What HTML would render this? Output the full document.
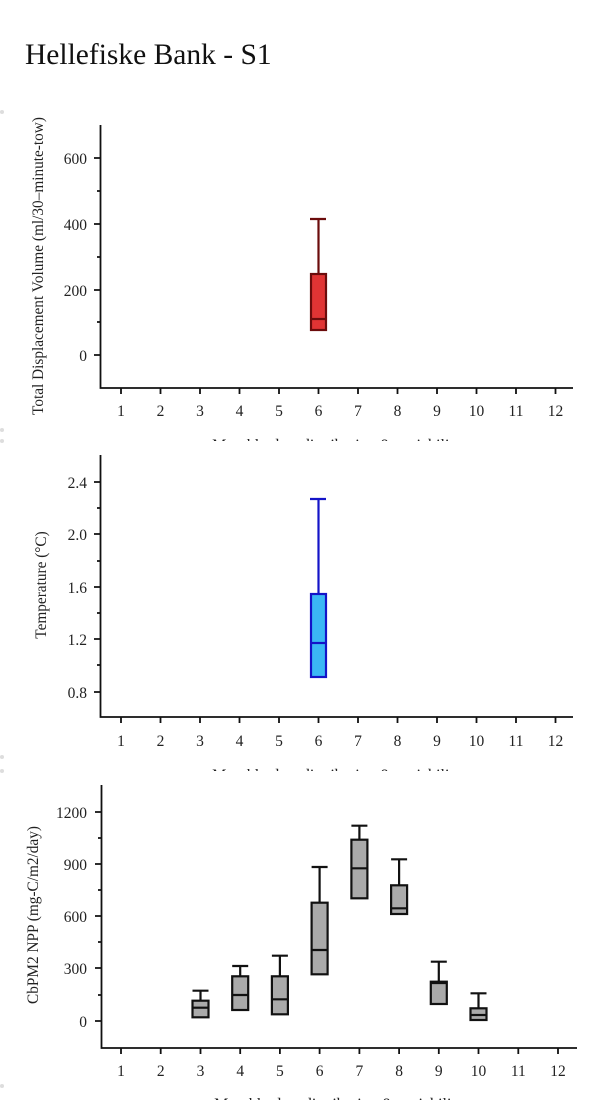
<!DOCTYPE html>
<html><head><meta charset="utf-8"><style>
html,body{margin:0;padding:0;background:#fff;}
svg{display:block;font-family:"Liberation Serif",serif;}
</style></head><body>
<svg width="600" height="1100" viewBox="0 0 600 1100" xmlns="http://www.w3.org/2000/svg">
<defs>
<clipPath id="c1"><rect x="0" y="0" width="600" height="441"/></clipPath>
<clipPath id="c2"><rect x="0" y="0" width="600" height="771"/></clipPath>
</defs>
<text x="25" y="64" font-size="29.5" fill="#111">Hellefiske Bank - S1</text>
<g fill="#ddd"><circle cx="2" cy="112" r="2"/><circle cx="2" cy="430" r="2"/><circle cx="2" cy="441" r="2"/><circle cx="2" cy="757" r="2"/><circle cx="2" cy="771" r="2"/><circle cx="2" cy="1086" r="2"/></g>

<!-- Chart 1 -->
<g stroke="#111" stroke-width="1.8" fill="none">
<path d="M100.5,125 V388 H573"/>
<path d="M94,158H100 M94,224H100 M94,290H100 M94,355H100 M97,191H100 M97,257H100 M97,322H100"/>
<path d="M121,388v6 M160.5,388v6 M200,388v6 M239.5,388v6 M279,388v6 M318.5,388v6 M358,388v6 M397.5,388v6 M437,388v6 M476.5,388v6 M516,388v6 M555.5,388v6"/>
</g>
<g font-size="15.5" fill="#222" text-anchor="end"><text x="87" y="164">600</text><text x="87" y="230">400</text><text x="87" y="296">200</text><text x="87" y="361">0</text></g>
<g font-size="15.5" fill="#222" text-anchor="middle"><text x="121" y="416">1</text><text x="160.5" y="416">2</text><text x="200" y="416">3</text><text x="239.5" y="416">4</text><text x="279" y="416">5</text><text x="318.5" y="416">6</text><text x="358" y="416">7</text><text x="397.5" y="416">8</text><text x="437" y="416">9</text><text x="476.5" y="416">10</text><text x="516" y="416">11</text><text x="555.5" y="416">12</text></g>
<text x="337" y="450" font-size="16" fill="#222" text-anchor="middle" clip-path="url(#c1)">Monthly data distribution &amp; variability</text>
<text transform="translate(43,266) rotate(-90)" font-size="15.3" fill="#222" text-anchor="middle">Total Displacement Volume (ml/30–minute-tow)</text>
<g stroke="#6b0c0c" stroke-width="2.2"><path d="M318.5,219V274 M310,219H326" fill="none"/><rect x="311" y="274" width="15" height="56" fill="#e03434"/><path d="M311,319H326"/></g>

<!-- Chart 2 -->
<g stroke="#111" stroke-width="1.8" fill="none">
<path d="M100.5,455 V717 H573"/>
<path d="M94,482H100 M94,534H100 M94,587H100 M94,639H100 M94,692H100 M97,508H100 M97,561H100 M97,613H100 M97,665H100"/>
<path d="M121,717v6 M160.5,717v6 M200,717v6 M239.5,717v6 M279,717v6 M318.5,717v6 M358,717v6 M397.5,717v6 M437,717v6 M476.5,717v6 M516,717v6 M555.5,717v6"/>
</g>
<g font-size="15.5" fill="#222" text-anchor="end"><text x="87" y="488">2.4</text><text x="87" y="540">2.0</text><text x="87" y="593">1.6</text><text x="87" y="645">1.2</text><text x="87" y="698">0.8</text></g>
<g font-size="15.5" fill="#222" text-anchor="middle"><text x="121" y="746">1</text><text x="160.5" y="746">2</text><text x="200" y="746">3</text><text x="239.5" y="746">4</text><text x="279" y="746">5</text><text x="318.5" y="746">6</text><text x="358" y="746">7</text><text x="397.5" y="746">8</text><text x="437" y="746">9</text><text x="476.5" y="746">10</text><text x="516" y="746">11</text><text x="555.5" y="746">12</text></g>
<text x="337" y="780" font-size="16" fill="#222" text-anchor="middle" clip-path="url(#c2)">Monthly data distribution &amp; variability</text>
<text transform="translate(46,585) rotate(-90)" font-size="15.3" fill="#222" text-anchor="middle">Temperature (°C)</text>
<g stroke="#1414c8" stroke-width="2.2"><path d="M318.5,499V594 M310,499H326" fill="none"/><rect x="311" y="594" width="15" height="83" fill="#3bb8f5"/><path d="M311,643H326"/></g>

<!-- Chart 3 -->
<g stroke="#111" stroke-width="1.8" fill="none">
<path d="M101.5,785 V1048 H577"/>
<path d="M95,812H101 M95,864H101 M95,916H101 M95,968H101 M95,1021H101 M98,838H101 M98,890H101 M98,942H101 M98,995H101"/>
<path d="M121,1048v6 M160.7,1048v6 M200.5,1048v6 M240.2,1048v6 M279.9,1048v6 M319.6,1048v6 M359.4,1048v6 M399.1,1048v6 M438.8,1048v6 M478.5,1048v6 M518.3,1048v6 M558,1048v6"/>
</g>
<g font-size="15.5" fill="#222" text-anchor="end"><text x="87" y="818">1200</text><text x="87" y="870">900</text><text x="87" y="922">600</text><text x="87" y="974">300</text><text x="87" y="1027">0</text></g>
<g font-size="15.5" fill="#222" text-anchor="middle"><text x="121" y="1076">1</text><text x="160.7" y="1076">2</text><text x="200.5" y="1076">3</text><text x="240.2" y="1076">4</text><text x="279.9" y="1076">5</text><text x="319.6" y="1076">6</text><text x="359.4" y="1076">7</text><text x="399.1" y="1076">8</text><text x="438.8" y="1076">9</text><text x="478.5" y="1076">10</text><text x="518.3" y="1076">11</text><text x="558" y="1076">12</text></g>
<text x="339" y="1109" font-size="16" fill="#222" text-anchor="middle">Monthly data distribution &amp; variability</text>
<text transform="translate(38,915) rotate(-90)" font-size="15.3" fill="#222" text-anchor="middle">CbPM2 NPP (mg-C/m2/day)</text>
<g stroke="#111" stroke-width="2.2" fill="#aaa">
<path d="M200.5,990.7V1000.7 M192.5,990.7H208.5" fill="none"/><rect x="192.5" y="1000.7" width="16" height="16.6"/><path d="M192.5,1007.7H208.5"/>
<path d="M240.2,966V976.3 M232.2,966H248.2" fill="none"/><rect x="232.2" y="976.3" width="16" height="33.7"/><path d="M232.2,995H248.2"/>
<path d="M279.9,955.7V976.3 M271.9,955.7H287.9" fill="none"/><rect x="271.9" y="976.3" width="16" height="38"/><path d="M271.9,999.3H287.9"/>
<path d="M319.6,867V902.7 M311.6,867H327.6" fill="none"/><rect x="311.6" y="902.7" width="16" height="71.6"/><path d="M311.6,950H327.6"/>
<path d="M359.4,825.7V839.7 M351.4,825.7H367.4" fill="none"/><rect x="351.4" y="839.7" width="16" height="58.6"/><path d="M351.4,868.3H367.4"/>
<path d="M399.1,859.3V885.3 M391.1,859.3H407.1" fill="none"/><rect x="391.1" y="885.3" width="16" height="28.7"/><path d="M391.1,908.3H407.1"/>
<path d="M438.8,961.7V981.7 M430.8,961.7H446.8" fill="none"/><rect x="430.8" y="981.7" width="16" height="22.3"/><path d="M430.8,983H446.8"/>
<path d="M478.5,993.3V1008.3 M470.5,993.3H486.5" fill="none"/><rect x="470.5" y="1008.3" width="16" height="11.7"/><path d="M470.5,1015H486.5"/>
</g>
</svg>
</body></html>
